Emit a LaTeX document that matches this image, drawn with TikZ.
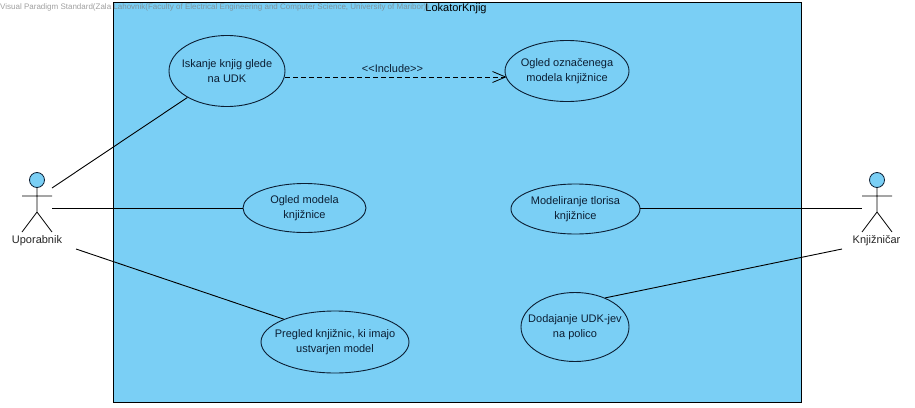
\documentclass[tikz,border=0pt]{standalone}
\usepackage{fontspec}
\setmainfont{Liberation Sans}
\usetikzlibrary{shapes.geometric,arrows.meta}
\definecolor{ucfill}{HTML}{7ACFF5}
\definecolor{ucline}{HTML}{0B1E33}
\tikzset{
  x=1pt,y=-1pt,
  uc/.style={ellipse,draw=ucline,fill=ucfill,line width=0.9pt,inner xsep=-20pt,inner ysep=-10pt,align=center,
    font=\fontsize{11}{15.5}\selectfont,text=ucline},
  link/.style={draw=black,line width=0.9pt},
  limb/.style={draw=black,line width=0.8pt},
  actorlabel/.style={font=\fontsize{11}{13}\selectfont,text=black!85},
}
\begin{document}
\begin{tikzpicture}
\useasboundingbox (0,0) rectangle (915,407);
\fill[white] (0,0) rectangle (915,407);
\node[rectangle,draw=black,fill=ucfill,line width=0.9pt,minimum width=688pt,minimum height=400pt,inner sep=0pt] (sys) at (457,202) {};
\node[font=\fontsize{11}{13}\selectfont,text=black] (sysname) at (456,9) {LokatorKnjig};
\node[anchor=west,inner sep=0pt,font=\fontsize{8.0}{10}\selectfont,text=black!50,opacity=0.75] (mark) at (0,7) {Visual Paradigm Standard(Zala Lahovnik(Faculty of Electrical Engineering and Computer Science, University of Maribor))};

\node[uc,minimum width=116pt,minimum height=71pt] (u1) at (227,71) {Iskanje knjig glede\\na UDK};
\node[uc,minimum width=124pt,minimum height=61pt] (u2) at (567,71) {Ogled označenega\\modela knjižnice};
\node[uc,minimum width=123pt,minimum height=49pt] (u3) at (304.5,208) {Ogled modela\\knjižnice};
\node[uc,minimum width=129pt,minimum height=50pt] (u4) at (575.5,209) {Modeliranje tlorisa\\knjižnice};
\node[uc,minimum width=148pt,minimum height=62pt] (u5) at (335,342) {Pregled knjižnic, ki imajo\\ustvarjen model};
\node[uc,minimum width=108pt,minimum height=69pt] (u6) at (575,327) {Dodajanje UDK-jev\\na polico};

% left actor
\node[circle,draw=ucline,fill=ucfill,line width=0.8pt,minimum size=15pt,inner sep=0pt] (h1) at (37,180) {};
\coordinate (hip1) at (37,212);
\coordinate (arl1) at (22,196);
\coordinate (arr1) at (52,196);
\coordinate (ftl1) at (22,232);
\coordinate (ftr1) at (52,232);
\draw[limb] (h1) -- (hip1) (arl1) -- (arr1) (ftl1) -- (hip1) -- (ftr1);
\node[actorlabel] (a1) at (37,241) {Uporabnik};
% right actor
\node[circle,draw=ucline,fill=ucfill,line width=0.8pt,minimum size=15pt,inner sep=0pt] (h2) at (877,180) {};
\coordinate (hip2) at (877,212);
\coordinate (arl2) at (862,196);
\coordinate (arr2) at (892,196);
\coordinate (ftl2) at (862,232);
\coordinate (ftr2) at (892,232);
\draw[limb] (h2) -- (hip2) (arl2) -- (arr2) (ftl2) -- (hip2) -- (ftr2);
\node[actorlabel] (a2) at (876.5,241) {Knjižničar};

% free ends
\coordinate (p1) at (52,188);
\coordinate (p2) at (52,208);
\coordinate (p3) at (76,249);
\coordinate (q1) at (862,208);
\coordinate (q2) at (842,249);

\draw[link] (p1) -- (u1);
\draw[link] (p2) -- (u3);
\draw[link] (p3) -- (u5.156);
\draw[link] (u4.east |- q1) -- (q1);
\draw[link] (u6.44) -- (q2);
\coordinate (d1) at (u1.east |- 0,77);
\draw[link,line width=0.8pt,dash pattern=on 5pt off 3pt,-{Straight Barb[length=13pt,width=11pt,line width=0.8pt]}] (d1) -- ([xshift=2pt]u2.west |- d1);
\node[font=\fontsize{11}{13}\selectfont,text=ucline] (lab) at (392.5,69) {<{}<Include>{}>};
\end{tikzpicture}
\end{document}
